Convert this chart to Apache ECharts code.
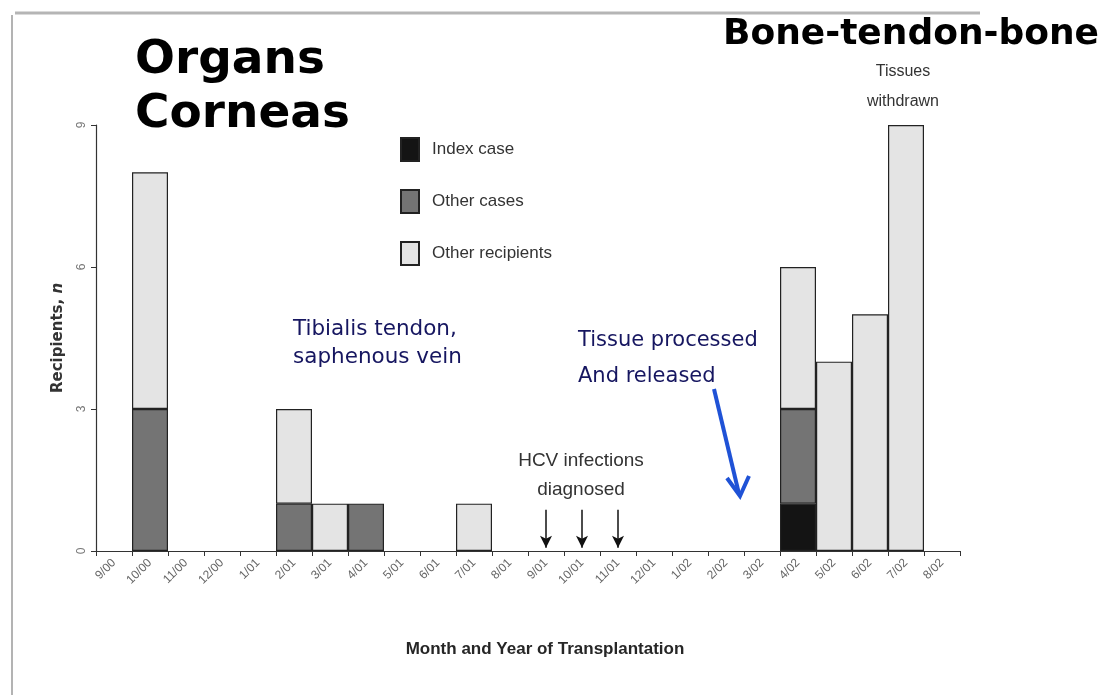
<!DOCTYPE html>
<html>
<head>
<meta charset="utf-8">
<script src="https://cdn.jsdelivr.net/npm/echarts@6/dist/echarts.min.js"></script>
<style>
  html, body { margin: 0; padding: 0; background: #fff; }
  #chart { width: 1104px; height: 695px; }
</style>
</head>
<body>
<div id="chart"></div>
<script>
// months of transplantation
const months = ['9/00', '10/00', '11/00', '12/00', '1/01', '2/01', '3/01', '4/01', '5/01', '6/01', '7/01', '8/01',
  '9/01', '10/01', '11/01', '12/01', '1/02', '2/02', '3/02', '4/02', '5/02', '6/02', '7/02', '8/02']

const indexCase = [0, 0, 0, 0, 0, 0, 0, 0, 0, 0, 0, 0, 0, 0, 0, 0, 0, 0, 0, 1, 0, 0, 0, 0]
const otherCases = [0, 3, 0, 0, 0, 1, 0, 1, 0, 0, 0, 0, 0, 0, 0, 0, 0, 0, 0, 2, 0, 0, 0, 0]
const otherRecipients = [0, 5, 0, 0, 0, 2, 1, 0, 0, 0, 1, 0, 0, 0, 0, 0, 0, 0, 0, 3, 4, 5, 9, 0]

const hcvMonths = ['9/01', '10/01', '11/01']
const yTicks = [0, 3, 6, 9]

const chart = echarts.init(document.getElementById('chart'))

const plain = "'Liberation Sans', Arial, sans-serif"
const navy = '#161660'

function barSeries(name, data, color) {
  return {
    name: name,
    type: 'bar',
    stack: 'total',
    data: data.map((v) => (v === 0 ? '-' : v)),
    barCategoryGap: 0,
    itemStyle: { color: color, borderColor: '#222', borderWidth: 1.2 },
    emphasis: { disabled: true }
  }
}

const series = [
  barSeries('Index case', indexCase, '#141414'),
  barSeries('Other cases', otherCases, '#747474'),
  barSeries('Other recipients', otherRecipients, '#e4e4e4')
]

// HCV diagnosis arrows
series[0].markLine = {
  silent: true,
  symbol: ['none', 'arrow'],
  symbolSize: [9, 12],
  label: { show: false },
  lineStyle: { color: '#111', width: 1.5, type: 'solid' },
  data: hcvMonths.map((m) => [{ coord: [m, 0.87] }, { coord: [m, 0.07] }])
}

const option = {
  animation: false,
  backgroundColor: '#fff',
  grid: { left: 96, right: 144, top: 125, bottom: 144 },
  legend: {
    orient: 'vertical',
    left: 400,
    top: 137,
    padding: 0,
    icon: 'rect',
    itemWidth: 18,
    itemHeight: 23,
    itemGap: 27,
    selectedMode: false,
    textStyle: { fontFamily: plain, fontSize: 17, color: '#333', lineHeight: 23, padding: [0, 0, 0, 8] },
    data: ['Index case', 'Other cases', 'Other recipients']
  },
  xAxis: {
    type: 'category',
    data: months,
    name: 'Month and Year of Transplantation',
    nameLocation: 'middle',
    nameGap: 90,
    nameTextStyle: { fontFamily: plain, fontSize: 17, fontWeight: 'bold', color: '#262626', padding: [0, 0, 0, 34] },
    axisLine: { lineStyle: { color: '#333', width: 1.2 } },
    axisTick: { show: true, length: 5, interval: 0, lineStyle: { color: '#333' } },
    axisLabel: { interval: 0, rotate: 45, fontFamily: plain, fontSize: 12, color: '#666', margin: 10 }
  },
  yAxis: {
    type: 'value',
    min: yTicks[0],
    max: yTicks[yTicks.length - 1],
    interval: 3,
    name: '{a|Recipients, }{b|n}',
    nameLocation: 'middle',
    nameGap: 30,
    nameTextStyle: {
      rich: {
        a: { fontFamily: 'DejaVu Sans', fontSize: 15, fontWeight: 'bold', color: '#333' },
        b: { fontFamily: 'DejaVu Sans', fontSize: 15, fontWeight: 'bold', fontStyle: 'italic', color: '#333' }
      }
    },
    axisLine: { show: true, lineStyle: { color: '#333', width: 1.2 } },
    axisTick: { show: true, length: 5, lineStyle: { color: '#333' } },
    axisLabel: { rotate: 90, fontFamily: plain, fontSize: 12, color: '#777', margin: 8 },
    splitLine: { show: false }
  },
  graphic: [
    // frame of the slide picture
    { type: 'line', shape: { x1: 15, y1: 13, x2: 980, y2: 13 }, style: { stroke: '#b5b5b5', lineWidth: 3 } },
    { type: 'line', shape: { x1: 12, y1: 15, x2: 12, y2: 695 }, style: { stroke: '#9a9a9a', lineWidth: 1.5 } },
    { type: 'text', left: 135, top: 37, style: { text: 'Organs', fontFamily: 'DejaVu Sans', fontWeight: 'bold', fontSize: 47, fill: '#000' } },
    { type: 'text', left: 135, top: 91, style: { text: 'Corneas', fontFamily: 'DejaVu Sans', fontWeight: 'bold', fontSize: 47, fill: '#000' } },
    { type: 'text', left: 723, top: 17, style: { text: 'Bone-tendon-bone', fontFamily: 'DejaVu Sans', fontWeight: 'bold', fontSize: 36, fill: '#000' } },
    { type: 'text', x: 903, y: 57, style: { text: 'Tissues\nwithdrawn', align: 'center', fontFamily: plain, fontSize: 16, lineHeight: 30, fill: '#333' } },
    { type: 'text', left: 293, top: 315, style: { text: 'Tibialis tendon,\nsaphenous vein', fontFamily: 'DejaVu Sans', fontSize: 21.5, lineHeight: 28, fill: navy } },
    { type: 'text', left: 578, top: 323, style: { text: 'Tissue processed\nAnd released', fontFamily: 'DejaVu Sans', fontSize: 21, lineHeight: 36, fill: navy } },
    { type: 'text', x: 581, y: 446, style: { text: 'HCV infections\ndiagnosed', align: 'center', fontFamily: plain, fontSize: 19, lineHeight: 29, fill: '#333' } },
    // blue pointer arrow
    { type: 'line', shape: { x1: 714, y1: 389, x2: 739, y2: 494 }, style: { stroke: '#1f52d6', lineWidth: 4 } },
    { type: 'polyline', shape: { points: [[727, 478], [740, 496], [749, 476]] }, style: { stroke: '#1f52d6', lineWidth: 4, fill: null } }
  ],
  series: series
}

chart.setOption(option)
</script>
</body>
</html>
